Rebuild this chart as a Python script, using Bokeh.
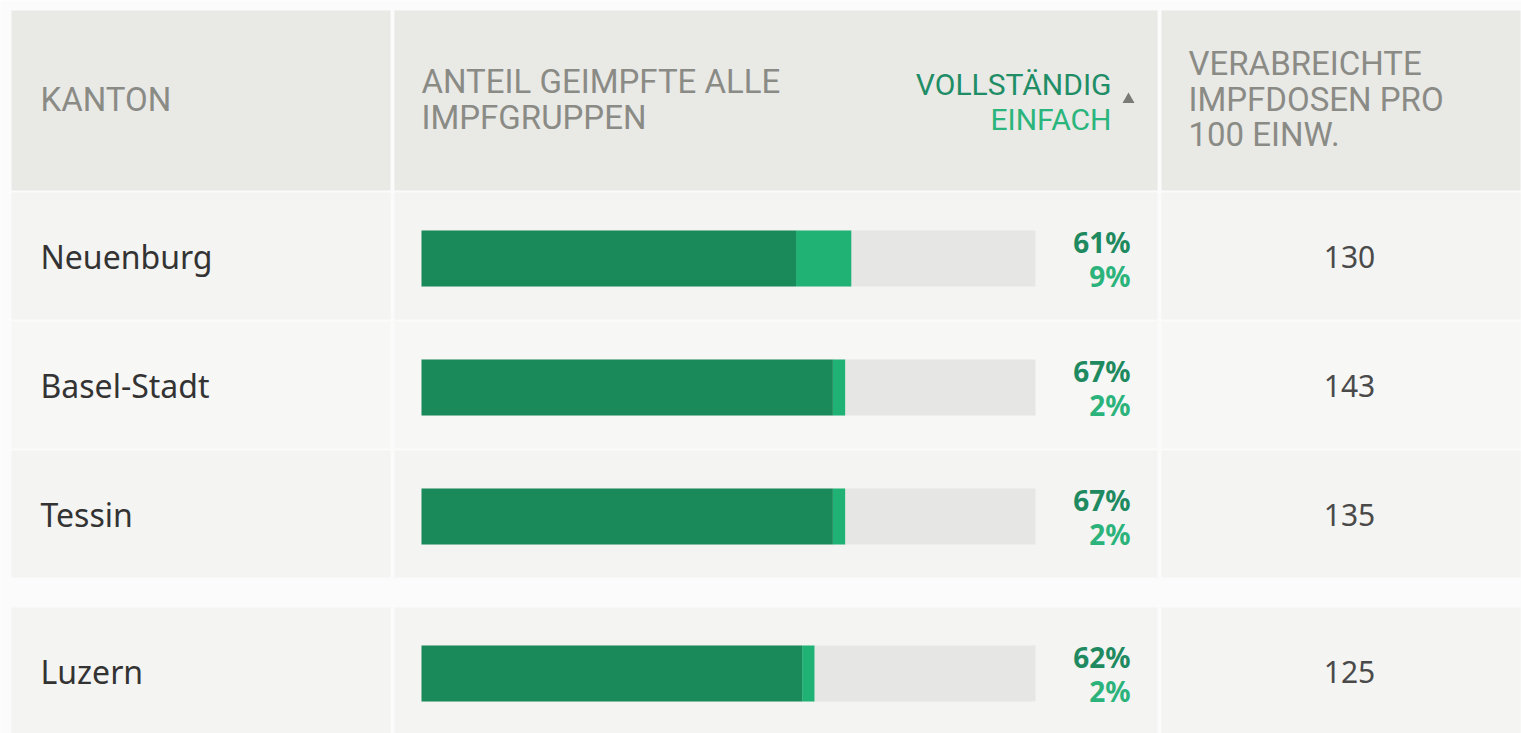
from bokeh.plotting import figure
from bokeh.models import Range1d, ColumnDataSource
from bokeh.core.properties import value
from bokeh.embed import file_html
from bokeh.resources import INLINE

# ---- data ----
cantons = ["Neuenburg", "Basel-Stadt", "Tessin", "Luzern"]
vollstaendig = [61, 67, 67, 62]
einfach = [9, 2, 2, 2]
dosen = [130, 143, 135, 125]

header_kanton = ["KANTON"]
header_anteil = ["ANTEIL GEIMPFTE ALLE", "IMPFGRUPPEN"]
header_sort = ["VOLLSTÄNDIG", "EINFACH"]
header_dosen = ["VERABREICHTE", "IMPFDOSEN PRO", "100 EINW."]

# ---- layout ----
W, H = 1521, 733
BAR_X0, BAR_W = 421, 614
COLS = [(11, 390), (394, 1157), (1161, 1520)]
HEAD_TOP, HEAD_BOT = 10, 190
ROW_TOPS = [192, 321, 450, 607]
ROW_H = 127
BAR_H = 56
CENTER_OFF = 66

DARK = "#1a8a5a"
LIGHT = "#20b274"
TRACK = "#e6e6e5"
HEAD_BG = "#e9e9e6"
ROW_BG = ["#f4f4f2", "#f7f7f6", "#f4f4f2", "#f4f4f2"]
HEAD_TXT = "#8b8b86"
NARROW = value("Roboto")
SANS = value("Noto Sans")

p = figure(width=W, height=H, x_range=Range1d(0, W), y_range=Range1d(H, 0),
           output_backend="svg", toolbar_location=None, min_border=0,
           background_fill_color="#fbfbfb", border_fill_color="#fbfbfb")
p.axis.visible = False
p.grid.visible = False
p.outline_line_color = None
p.extra_x_ranges = {"pct": Range1d(-BAR_X0 / BAR_W * 100, (W - BAR_X0) / BAR_W * 100)}

# header cells
p.quad(left=[c[0] for c in COLS], right=[c[1] for c in COLS],
       top=[HEAD_TOP] * 3, bottom=[HEAD_BOT] * 3, fill_color=HEAD_BG, line_color=None)

# row cells
ql, qr, qt, qb, qc = [], [], [], [], []
for i, t in enumerate(ROW_TOPS):
    for c in COLS:
        ql.append(c[0]); qr.append(c[1]); qt.append(t); qb.append(t + ROW_H); qc.append(ROW_BG[i])
p.quad(left=ql, right=qr, top=qt, bottom=qb, fill_color=qc, line_color=None)

yc = [t + CENTER_OFF for t in ROW_TOPS]
src = ColumnDataSource(dict(
    y=yc, canton=cantons, v=vollstaendig,
    tot=[a + b for a, b in zip(vollstaendig, einfach)],
    zero=[0] * len(cantons), full=[100] * len(cantons),
    vtxt=[f"{a}%" for a in vollstaendig], etxt=[f"{b}%" for b in einfach],
    dtxt=[str(d) for d in dosen],
    ytop=[y - 17 for y in yc], ybot=[y + 17 for y in yc],
    ytxt=[y - 2 for y in yc],
))

# bars
p.hbar(y="y", left="zero", right="full", height=BAR_H, source=src, x_range_name="pct",
       fill_color=TRACK, line_color=None)
p.hbar(y="y", left="v", right="tot", height=BAR_H, source=src, x_range_name="pct",
       fill_color=LIGHT, line_color=None)
p.hbar(y="y", left="zero", right="v", height=BAR_H, source=src, x_range_name="pct",
       fill_color=DARK, line_color=None)

# row texts
p.text(x=40, y="ytxt", text="canton", source=src, text_font=SANS, text_font_size="32px",
       text_color="#333333", text_baseline="middle", text_align="left")
p.text(x=1130, y="ytop", text="vtxt", source=src, text_font=SANS, text_font_size="28px",
       text_font_style="bold", text_color="#1f8a60", text_baseline="middle", text_align="right")
p.text(x=1130, y="ybot", text="etxt", source=src, text_font=SANS, text_font_size="28px",
       text_font_style="bold", text_color="#2bb37b", text_baseline="middle", text_align="right")
p.text(x=1349, y="ytxt", text="dtxt", source=src, text_font=SANS, text_font_size="30px",
       text_color="#4a4a4a", text_baseline="middle", text_align="center")

# header texts
p.text(x=[40], y=[99], text=header_kanton, text_font=NARROW, text_font_size="33px",
       text_color=HEAD_TXT, text_baseline="middle")
p.text(x=[421] * 2, y=[81, 117], text=header_anteil, text_font=NARROW, text_font_size="33px",
       text_color=HEAD_TXT, text_baseline="middle")
p.text(x=[1111] * 2, y=[84, 119], text=header_sort, text_font=NARROW, text_font_size="30px",
       text_color=["#1f8e66", "#2ab57c"], text_baseline="middle", text_align="right")
p.scatter(x=[1128], y=[99], marker="triangle", size=12, fill_color="#7a7a76", line_color=None)
p.text(x=[1188] * 3, y=[63, 99, 134], text=header_dosen, text_font=NARROW, text_font_size="33px",
       text_color=HEAD_TXT, text_baseline="middle")

open("out.html", "w").write(file_html(p, INLINE))
